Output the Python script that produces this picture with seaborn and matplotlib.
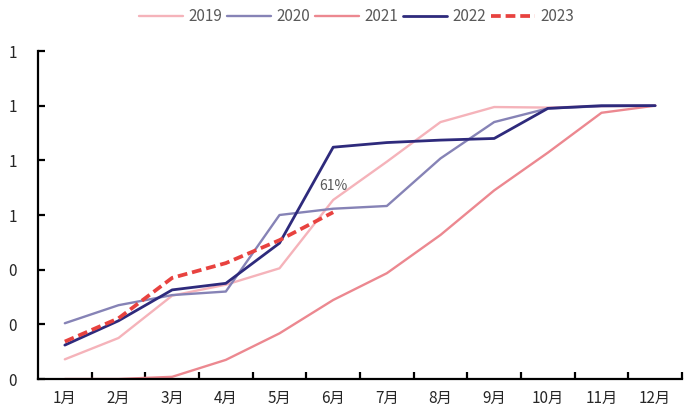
import matplotlib
matplotlib.use("Agg")
import matplotlib.pyplot as plt
from matplotlib.ticker import FixedLocator, FuncFormatter
import numpy as np
import pandas as pd
import seaborn as sns

# Cumulative share of annual total by month
months = ["1月", "2月", "3月", "4月", "5月", "6月", "7月", "8月", "9月", "10月", "11月", "12月"]
y2019 = [0.072, 0.15, 0.305, 0.345, 0.405, 0.655, 0.795, 0.94, 0.995, 0.993, 0.998, 1.0]
y2020 = [0.204, 0.27, 0.307, 0.32, 0.60, 0.623, 0.633, 0.807, 0.94, 0.99, 0.998, 1.0]
y2021 = [0.0, 0.0, 0.008, 0.07, 0.167, 0.289, 0.387, 0.527, 0.69, 0.828, 0.974, 1.0]
y2022 = [0.124, 0.213, 0.326, 0.35, 0.497, 0.848, 0.865, 0.874, 0.88, 0.99, 1.0, 1.0]
y2023 = [0.137, 0.222, 0.37, 0.424, 0.508, 0.61]

series = {"2019": y2019, "2020": y2020, "2021": y2021, "2022": y2022, "2023": y2023}
styles = {
    "2019": dict(color="#f5b3ba", lw=1.7, ls="-"),
    "2020": dict(color="#8683b6", lw=1.7, ls="-"),
    "2021": dict(color="#ec8890", lw=1.7, ls="-"),
    "2022": dict(color="#2e2a7c", lw=2.0, ls="-"),
    "2023": dict(color="#e8423f", lw=2.7, ls=(0, (2.6, 1.3))),
}

sns.set_theme(style="white")
plt.rcParams["font.family"] = ["Noto Sans CJK SC", "DejaVu Sans"]

fig = plt.figure(figsize=(6.92, 4.12), dpi=100)
ax = fig.add_axes([38 / 692, 33 / 412, 644 / 692, 328 / 412])

for name, vals in series.items():
    df = pd.DataFrame({"m": np.arange(len(vals)), "v": vals})
    st = styles[name]
    sns.lineplot(data=df, x="m", y="v", ax=ax, color=st["color"], linewidth=st["lw"],
                 linestyle=st["ls"], label=name, legend=False)

# value label for the latest month of 2023
ax.annotate(f"{y2023[-1] * 100:.0f}%", xy=(len(y2023) - 1, y2023[-1]), xytext=(0, 19),
            textcoords="offset points", ha="center", va="center", fontsize=10,
            color="#595959")

ax.set_xlim(-0.5, 11.5)
ax.set_ylim(0, 1.2)
ax.set_xlabel("")
ax.set_ylabel("")

ax.set_xticks(np.arange(12))
ax.set_xticklabels(months)
ax.xaxis.set_minor_locator(FixedLocator(np.arange(0.5, 12, 1.0)))
ax.tick_params(axis="x", which="major", length=0, pad=8, labelsize=11, labelcolor="#262626")
ax.tick_params(axis="x", which="minor", direction="in", length=5, width=1.6, color="black",
               bottom=True)

ax.set_yticks(np.arange(0, 1.21, 0.2))
ax.yaxis.set_major_formatter(FuncFormatter(lambda v, p: f"{v:.0f}"))
ax.tick_params(axis="y", which="major", direction="in", length=5, width=1.6, color="black",
               left=True, pad=15, labelsize=11, labelcolor="#262626")

for s in ["top", "right"]:
    ax.spines[s].set_visible(False)
for s in ["left", "bottom"]:
    ax.spines[s].set_color("black")
    ax.spines[s].set_linewidth(1.6)

handles, labels = ax.get_legend_handles_labels()
leg = fig.legend(handles, labels, loc="center", bbox_to_anchor=(0.515, 0.96), ncol=5,
                 frameon=False, fontsize=11, handlelength=2.9, columnspacing=0.3,
                 handletextpad=0.35)
for t in leg.get_texts():
    t.set_color("#595959")

fig.savefig("out.png", dpi=100)
